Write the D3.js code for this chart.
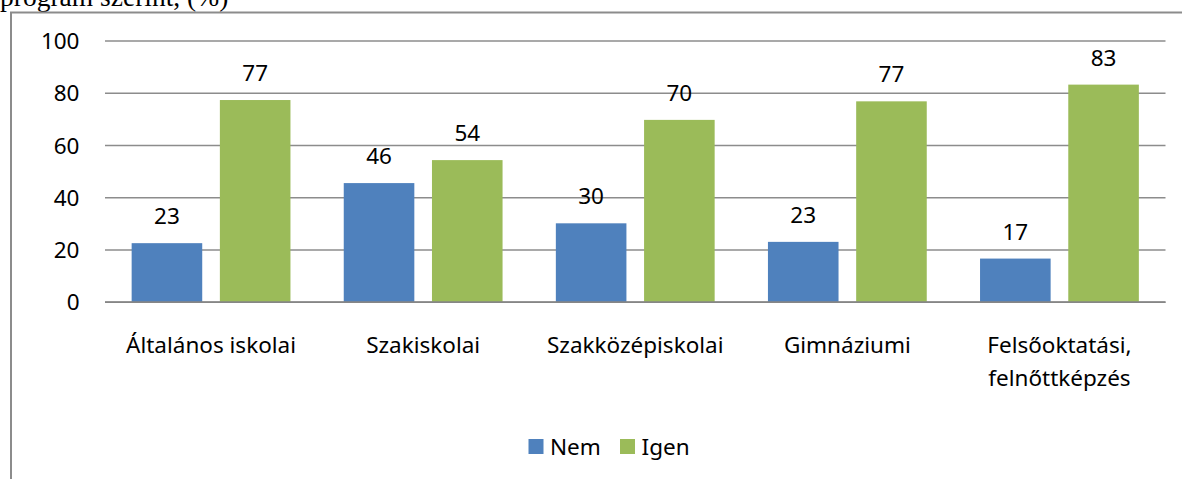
<!DOCTYPE html>
<html>
<head>
<meta charset="utf-8">
<script src="https://cdn.jsdelivr.net/npm/d3@7"></script>
<style>
body { margin: 0; background: #fff; }
svg { display: block; }
</style>
</head>
<body>
<script>
// data
var categories = ["Általános iskolai", "Szakiskolai", "Szakközépiskolai", "Gimnáziumi", "Felsőoktatási,\nfelnőttképzés"];
var seriesNames = ["Nem", "Igen"];
var nem = [22.6, 45.6, 30.2, 23.1, 16.7];
var igen = [77.4, 54.4, 69.8, 76.9, 83.3];
var yTicks = [0, 20, 40, 60, 80, 100];

var colors = { "Nem": "#4f81bd", "Igen": "#9bbb59" };
var font = "'Noto Sans', 'Open Sans', sans-serif";

var svg = d3.select("body").append("svg")
	.attr("width", 1182)
	.attr("height", 479);

// title fragment cut at the top
svg.append("text")
	.attr("x", 0)
	.attr("y", 6)
	.attr("font-family", "'Liberation Serif', 'Times New Roman', serif")
	.style("font-size", "27.5px")
	.attr("fill", "#000")
	.text("program szerint, (%)");

// chart area border (runs out of the picture)
svg.append("rect")
	.attr("x", 11)
	.attr("y", 12.5)
	.attr("width", 1400)
	.attr("height", 700)
	.attr("fill", "none")
	.style("stroke", "#8c8c8c")
	.style("stroke-width", 2);

var plotLeft = 105, plotRight = 1165.5, plotTop = 41, plotBottom = 302.2;

var x0 = d3.scaleBand()
	.domain(categories)
	.range([plotLeft, plotRight])
	.padding(0);

var x1 = d3.scaleBand()
	.domain(seriesNames)
	.range([0, x0.bandwidth()])
	.paddingInner(0.2)
	.paddingOuter(0.302);

var y = d3.scaleLinear()
	.domain([0, 100])
	.range([plotBottom, plotTop]);

// gridlines
svg.selectAll(".grid")
	.data(yTicks)
	.enter().append("line")
	.attr("class", "grid")
	.attr("x1", plotLeft)
	.attr("x2", plotRight)
	.attr("y1", function(d){ return y(d); })
	.attr("y2", function(d){ return y(d); })
	.style("stroke", "#8c8c8c")
	.style("stroke-width", 1.6);

// y tick labels
svg.selectAll(".ylab")
	.data(yTicks)
	.enter().append("text")
	.attr("class", "ylab")
	.attr("x", 79.5)
	.attr("y", function(d){ return y(d) + 8.2; })
	.attr("font-family", font)
	.style("font-size", "22.5px")
	.style("text-anchor", "end")
	.text(function(d){ return d; });

var rows = categories.map(function(c, i){
	return { cat: c, values: [{ s: "Nem", v: nem[i] }, { s: "Igen", v: igen[i] }] };
});

var groups = svg.selectAll(".cat")
	.data(rows)
	.enter().append("g")
	.attr("class", "cat")
	.attr("transform", function(d){ return "translate(" + x0(d.cat) + ",0)"; });

groups.selectAll("rect")
	.data(function(d){ return d.values; })
	.enter().append("rect")
	.attr("x", function(d){ return x1(d.s); })
	.attr("y", function(d){ return y(d.v); })
	.attr("width", x1.bandwidth())
	.attr("height", function(d){ return y(0) - y(d.v); })
	.attr("fill", function(d){ return colors[d.s]; });

groups.selectAll(".val")
	.data(function(d){ return d.values; })
	.enter().append("text")
	.attr("class", "val")
	.attr("x", function(d){ return x1(d.s) + x1.bandwidth()/2; })
	.attr("y", function(d){ return y(d.v) - 19; })
	.attr("font-family", font)
	.style("font-size", "22.5px")
	.style("text-anchor", "middle")
	.text(function(d){ return Math.round(d.v); });

// axis line at zero drawn over the bars
svg.append("line")
	.attr("x1", plotLeft)
	.attr("x2", plotRight)
	.attr("y1", y(0))
	.attr("y2", y(0))
	.style("stroke", "#868686")
	.style("stroke-width", 1.8);

// category labels
svg.selectAll(".xlab")
	.data(categories)
	.enter().append("text")
	.attr("class", "xlab")
	.attr("x", function(d){ return x0(d) + x0.bandwidth()/2; })
	.attr("y", 352.5)
	.attr("font-family", font)
	.style("font-size", "22.5px")
	.style("text-anchor", "middle")
	.each(function(d){
		var lines = d.split("\n");
		var t = d3.select(this);
		lines.forEach(function(l, i){
			t.append("tspan")
				.attr("x", x0(d) + x0.bandwidth()/2)
				.attr("dy", i == 0 ? 0 : 33)
				.text(l);
		});
	});

// legend
var legendX = [528.5, 620];
var leg = svg.selectAll(".legend")
	.data(seriesNames)
	.enter().append("g")
	.attr("class", "legend")
	.attr("transform", function(d, i){ return "translate(" + legendX[i] + ",439)"; });

leg.append("rect")
	.attr("width", 15)
	.attr("height", 15)
	.attr("fill", function(d){ return colors[d]; });

leg.append("text")
	.attr("x", 21.5)
	.attr("y", 15.5)
	.attr("font-family", font)
	.style("font-size", "22.5px")
	.text(function(d){ return d; });
</script>
</body>
</html>
